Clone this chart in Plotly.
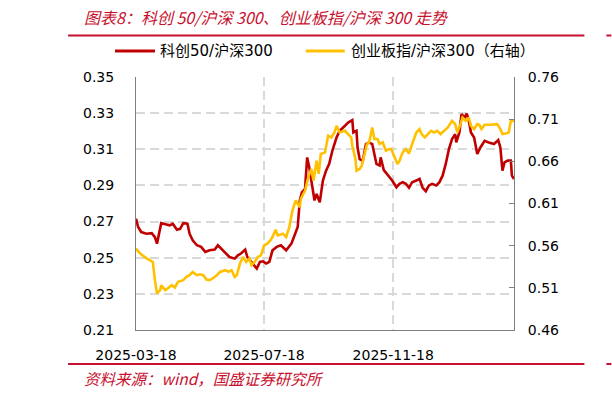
import plotly.graph_objects as go

# ---------------- data ----------------
star50_dates = [
    "2025-03-18","2025-03-20","2025-03-23","2025-03-28","2025-04-02","2025-04-05","2025-04-07","2025-04-09",
    "2025-04-11","2025-04-16","2025-04-19","2025-04-22","2025-04-26","2025-04-29","2025-05-02","2025-05-06",
    "2025-05-08","2025-05-11","2025-05-15","2025-05-19","2025-05-23","2025-05-27","2025-06-01","2025-06-04",
    "2025-06-07","2025-06-12","2025-06-15","2025-06-20","2025-06-23","2025-06-26","2025-06-30","2025-07-02",
    "2025-07-06","2025-07-09","2025-07-11","2025-07-14","2025-07-17","2025-07-20","2025-07-23","2025-07-26",
    "2025-07-30","2025-08-03","2025-08-08","2025-08-13","2025-08-16","2025-08-19","2025-08-21","2025-08-23",
    "2025-08-26","2025-08-28","2025-08-30","2025-09-02","2025-09-04","2025-09-06","2025-09-09","2025-09-12",
    "2025-09-15","2025-09-18","2025-09-21","2025-09-25","2025-09-28","2025-10-03","2025-10-06","2025-10-10",
    "2025-10-11","2025-10-14","2025-10-15","2025-10-17","2025-10-20","2025-10-23","2025-10-26","2025-10-29",
    "2025-11-02","2025-11-05","2025-11-06","2025-11-09","2025-11-12","2025-11-14","2025-11-17","2025-11-21",
    "2025-11-24","2025-11-27","2025-11-30","2025-12-03","2025-12-06","2025-12-10","2025-12-13","2025-12-16",
    "2025-12-19","2025-12-22","2025-12-25","2025-12-29","2026-01-01","2026-01-04","2026-01-07","2026-01-10",
    "2026-01-13","2026-01-16","2026-01-17","2026-01-20","2026-01-22","2026-01-25","2026-01-27","2026-01-29",
    "2026-01-31","2026-02-03","2026-02-06","2026-02-09","2026-02-13","2026-02-17","2026-02-22","2026-02-26",
    "2026-02-28","2026-03-02","2026-03-04","2026-03-07","2026-03-10","2026-03-11","2026-03-13",
]
star50_ratio = [
    0.2716,0.2670,0.2642,0.2633,0.2636,0.2614,0.2578,0.2640,
    0.2691,0.2684,0.2679,0.2688,0.2655,0.2660,0.2691,0.2688,
    0.2633,0.2596,0.2569,0.2560,0.2532,0.2541,0.2545,0.2569,
    0.2550,0.2523,0.2504,0.2495,0.2513,0.2523,0.2545,0.2504,
    0.2477,0.2458,0.2440,0.2477,0.2480,0.2468,0.2477,0.2541,
    0.2560,0.2569,0.2541,0.2578,0.2624,0.2670,0.2817,0.2862,
    0.2881,0.3055,0.3000,0.2890,0.2817,0.2853,0.2807,0.2927,
    0.2982,0.3019,0.3092,0.3165,0.3202,0.3230,0.3248,0.3261,
    0.3193,0.3202,0.3110,0.3046,0.3037,0.3129,0.3138,0.3129,
    0.3019,0.3010,0.3055,0.2985,0.2965,0.2950,0.2927,0.2890,
    0.2909,0.2918,0.2909,0.2887,0.2918,0.2927,0.2936,0.2887,
    0.2868,0.2900,0.2909,0.2900,0.2918,0.2954,0.3019,0.3101,
    0.3157,0.3184,0.3138,0.3193,0.3294,0.3276,0.3298,0.3257,
    0.3193,0.3165,0.3074,0.3110,0.3147,0.3138,0.3129,0.3151,
    0.3110,0.2982,0.3028,0.3037,0.3037,0.2954,0.2936,
]

chinext_dates = [
    "2025-03-18","2025-03-22","2025-03-27","2025-03-31","2025-04-03","2025-04-05","2025-04-07","2025-04-10",
    "2025-04-11","2025-04-15","2025-04-18","2025-04-21","2025-04-24","2025-04-27","2025-05-02","2025-05-05",
    "2025-05-08","2025-05-11","2025-05-15","2025-05-18","2025-05-21","2025-05-24","2025-05-27","2025-05-30",
    "2025-06-03","2025-06-06","2025-06-11","2025-06-14","2025-06-17","2025-06-20","2025-06-22","2025-06-25",
    "2025-06-28","2025-07-01","2025-07-04","2025-07-06","2025-07-09","2025-07-12","2025-07-15","2025-07-18",
    "2025-07-21","2025-07-24","2025-07-26","2025-07-29","2025-07-31","2025-08-05","2025-08-08","2025-08-11",
    "2025-08-14","2025-08-17","2025-08-19","2025-08-21","2025-08-22","2025-08-26","2025-08-29","2025-09-01",
    "2025-09-03","2025-09-06","2025-09-08","2025-09-10","2025-09-14","2025-09-17","2025-09-20","2025-09-23",
    "2025-09-25","2025-09-28","2025-10-03","2025-10-06","2025-10-09","2025-10-10","2025-10-13","2025-10-14",
    "2025-10-17","2025-10-19","2025-10-22","2025-10-24","2025-10-26","2025-10-29","2025-10-31","2025-11-03",
    "2025-11-05","2025-11-08","2025-11-11","2025-11-13","2025-11-16","2025-11-19","2025-11-22","2025-11-24",
    "2025-11-27","2025-11-30","2025-12-03","2025-12-06","2025-12-10","2025-12-13","2025-12-15","2025-12-18",
    "2025-12-21","2025-12-24","2025-12-27","2025-12-30","2026-01-02","2026-01-06","2026-01-09","2026-01-11",
    "2026-01-13","2026-01-16","2026-01-18","2026-01-21","2026-01-23","2026-01-26","2026-01-29","2026-01-31",
    "2026-02-03","2026-02-06","2026-02-08","2026-02-10","2026-02-13","2026-02-19","2026-02-25","2026-02-28",
    "2026-03-02","2026-03-05","2026-03-08","2026-03-10","2026-03-13",
]
chinext_ratio = [
    0.5565,0.5506,0.5459,0.5427,0.5407,0.5191,0.5034,0.5072,
    0.5131,0.5072,0.5104,0.5131,0.5104,0.5171,0.5191,0.5230,
    0.5250,0.5289,0.5250,0.5261,0.5250,0.5199,0.5191,0.5211,
    0.5250,0.5289,0.5309,0.5289,0.5309,0.5230,0.5250,0.5388,
    0.5466,0.5407,0.5447,0.5368,0.5407,0.5466,0.5486,0.5604,
    0.5624,0.5663,0.5702,0.5790,0.5722,0.5742,0.5702,0.5820,
    0.6017,0.6135,0.6096,0.6056,0.6155,0.6254,0.6410,0.6510,
    0.6372,0.6608,0.6451,0.6687,0.6706,0.6903,0.6883,0.6942,
    0.7021,0.6942,0.6962,0.6923,0.6883,0.6785,0.6628,0.6490,
    0.6510,0.6549,0.6687,0.6805,0.6824,0.7001,0.6864,0.6864,
    0.6805,0.6824,0.6726,0.6740,0.6746,0.6667,0.6569,0.6608,
    0.6706,0.6746,0.6694,0.6805,0.6942,0.6982,0.6923,0.6883,
    0.6923,0.6962,0.6942,0.6962,0.6923,0.6970,0.7001,0.7041,
    0.7080,0.7041,0.6942,0.7041,0.7119,0.7080,0.7119,0.7021,
    0.6982,0.7041,0.7033,0.6982,0.7033,0.7033,0.7041,0.6982,
    0.6923,0.6930,0.6942,0.7080,0.7080,
]

x_tick_vals = ["2025-03-18", "2025-07-18", "2025-11-18"]
x_tick_text = ["2025-03-18", "2025-07-18", "2025-11-18"]
x_range = ["2025-03-18", "2026-03-13"]

name_star = "科创50/沪深300"
name_chinext = "创业板指/沪深300（右轴）"
title_text = "图表8：科创 50/沪深 300、创业板指/沪深 300 走势"
source_text = "资料来源：wind，国盛证券研究所"

RED = "#C00000"
YELLOW = "#FFC000"
ACCENT = "#C8102E"

# ---------------- figure ----------------
fig = go.Figure()
fig.add_trace(go.Scatter(x=star50_dates, y=star50_ratio, name=name_star, mode="lines",
                         line=dict(color=RED, width=2.6), yaxis="y"))
fig.add_trace(go.Scatter(x=chinext_dates, y=chinext_ratio, name=name_chinext, mode="lines",
                         line=dict(color=YELLOW, width=2.6), yaxis="y2"))

L, R, T, B = 136, 97.5, 77, 67
W, H = 612, 397
pw = W - L - R
ph = H - T - B

def px(x):
    return (x - L) / pw

def py(y):
    return (H - B - y) / ph

tick_font = dict(family="DejaVu Sans, Noto Sans CJK SC", size=14, color="#000000")
cjk = "Noto Sans CJK SC, DejaVu Sans"

fig.update_layout(
    width=W, height=H,
    margin=dict(l=L, r=R, t=T, b=B),
    paper_bgcolor="white", plot_bgcolor="white",
    showlegend=False,
    xaxis=dict(
        type="date", range=x_range,
        tickvals=x_tick_vals, ticktext=x_tick_text,
        showgrid=True, gridcolor="#d9d9d9", griddash="9px,5px", gridwidth=1.5,
        showline=True, linecolor="#808080", linewidth=1,
        ticks="", tickfont=tick_font, ticklabelstandoff=12,
        zeroline=False,
    ),
    yaxis=dict(
        range=[0.21, 0.35], dtick=0.02, tick0=0.21, tickformat=".2f",
        showgrid=True, gridcolor="#d9d9d9", griddash="9px,5px", gridwidth=1.5,
        showline=True, linecolor="#808080", linewidth=1,
        ticks="", tickfont=tick_font, ticklabelstandoff=18,
        zeroline=False,
    ),
    yaxis2=dict(
        range=[0.46, 0.76], dtick=0.05, tick0=0.46, tickformat=".2f",
        overlaying="y", side="right", showgrid=False,
        showline=True, linecolor="#808080", linewidth=1,
        ticks="inside", ticklen=5, tickcolor="#808080",
        tickfont=tick_font, ticklabelstandoff=10,
        zeroline=False,
    ),
)

shapes = [
    dict(type="line", xref="paper", yref="paper", x0=px(68), x1=px(585), y0=py(35.5), y1=py(35.5),
         line=dict(color=ACCENT, width=2)),
    dict(type="line", xref="paper", yref="paper", x0=px(607), x1=px(612), y0=py(35.5), y1=py(35.5),
         line=dict(color=ACCENT, width=2)),
    dict(type="line", xref="paper", yref="paper", x0=px(68), x1=px(585), y0=py(364), y1=py(364),
         line=dict(color=ACCENT, width=2)),
    dict(type="line", xref="paper", yref="paper", x0=px(607), x1=px(612), y0=py(364), y1=py(364),
         line=dict(color=ACCENT, width=2)),
    # legend samples
    dict(type="line", xref="paper", yref="paper", x0=px(115), x1=px(155), y0=py(51), y1=py(51),
         line=dict(color=RED, width=3)),
    dict(type="line", xref="paper", yref="paper", x0=px(306), x1=px(345), y0=py(51), y1=py(51),
         line=dict(color=YELLOW, width=3)),
]
fig.update_layout(shapes=shapes)

annotations = [
    dict(text=title_text, xref="paper", yref="paper", x=px(82), y=py(17), xanchor="left", yanchor="middle",
         showarrow=False, font=dict(family=cjk, size=16, color=ACCENT, style="italic")),
    dict(text=name_star, xref="paper", yref="paper", x=px(158), y=py(51), xanchor="left", yanchor="middle",
         showarrow=False, font=dict(family="DejaVu Sans, Noto Sans CJK SC", size=15, color="#000000")),
    dict(text=name_chinext, xref="paper", yref="paper", x=px(349), y=py(51), xanchor="left", yanchor="middle",
         showarrow=False, font=dict(family="DejaVu Sans, Noto Sans CJK SC", size=15, color="#000000")),
    dict(text=source_text, xref="paper", yref="paper", x=px(82), y=py(378), xanchor="left", yanchor="middle",
         showarrow=False, font=dict(family=cjk, size=15.5, color=ACCENT, style="italic")),
]
fig.update_layout(annotations=annotations)

fig.write_html("out.html")
